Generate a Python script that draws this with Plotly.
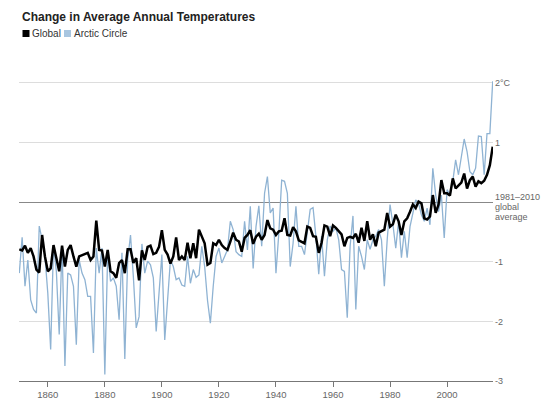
import plotly.graph_objects as go

years = list(range(1850, 2017))

global_anom = [
    -0.79, -0.81, -0.73, -0.85, -0.77, -0.91, -1.13, -1.18, -0.55, -0.91,
    -1.16, -1.11, -0.72, -0.97, -1.16, -0.73, -1.08, -0.80, -0.72, -0.91,
    -1.08, -0.91, -0.89, -0.87, -0.85, -0.97, -0.91, -0.31, -0.80, -0.81,
    -1.08, -0.80, -1.16,
    -1.19, -1.27, -1.02, -0.97, -1.19, -0.79, -0.79, -1.02, -0.94, -1.31,
    -0.81, -0.97, -0.75, -0.73, -0.87, -0.85, -0.75, -0.47, -0.80, -0.88,
    -1.03, -0.91, -0.59, -0.97, -0.91, -0.97, -0.68, -0.94, -0.69, -0.94,
    -0.46, -0.58, -0.69,
    -1.05, -1.02, -0.69, -0.72, -0.63, -0.72, -0.77, -0.80, -0.66, -0.51,
    -0.63, -0.66, -0.83, -0.60, -0.55, -0.47, -0.70, -0.58, -0.53, -0.63,
    -0.55, -0.30, -0.44, -0.46, -0.55, -0.49, -0.48, -0.27, -0.55, -0.56,
    -0.42, -0.49, -0.64,
    -0.67, -0.69, -0.41, -0.43, -0.57, -0.58, -0.85, -0.68, -0.39, -0.41,
    -0.57, -0.39, -0.43, -0.49, -0.54, -0.74, -0.60, -0.58, -0.60, -0.53,
    -0.68, -0.43, -0.65, -0.32, -0.63, -0.54, -0.74, -0.51, -0.49, -0.46,
    -0.18, -0.41, -0.37,
    -0.21, -0.32, -0.55, -0.32, -0.27, -0.16, -0.04, -0.10, 0.01, -0.02,
    -0.27, -0.29, -0.24, 0.12, -0.18, -0.04, 0.37, 0.15, 0.15, 0.11,
    0.40, 0.23, 0.29, 0.33, 0.48, 0.23, 0.37, 0.43, 0.26, 0.35,
    0.32, 0.36, 0.46, 0.62, 0.93,
]

arctic_anom = [
    -1.19, -0.59, -1.41, -0.97, -1.64, -1.80, -1.86, -0.40, -0.63, -0.91,
    -1.53, -2.47, -0.72, -1.16, -2.22, -0.74, -2.75, -1.19, -1.22, -1.41,
    -2.39, -0.97, -1.19, -1.30, -1.58, -1.58, -2.53, -0.77, -1.19, -0.77,
    -2.89, -0.85, -1.33,
    -1.27, -1.41, -1.97, -0.85, -2.63, -0.97, -0.55, -1.25, -2.11, -1.92,
    -0.70, -1.19, -0.99, -1.05, -1.27, -2.17, -1.47, -0.88, -2.31, -1.64,
    -0.97, -1.08, -1.30, -1.27, -1.39, -1.41, -0.91, -1.36, -1.13, -1.26,
    -1.22, -0.74, -1.08,
    -1.65, -2.03, -1.41, -0.91, -0.77, -1.02, -0.91, -0.80, -0.32, -0.46,
    -0.83, -0.88, -0.91, -0.32, -0.80, -0.07, -1.11, -0.41, -0.06, -0.74,
    0.15, 0.43, -0.18, -0.10, -1.19, -0.52, 0.37, 0.35, 0.15, -1.08,
    -0.69, -0.07, -0.74,
    -0.74, -0.88, -0.54, -0.12, -0.09, -0.57, -1.21, -0.57, -1.24, -0.63,
    -0.40, -0.49, -0.43, -0.63, -1.13, -1.16, -1.94, -0.74, -0.23, -1.80,
    -0.74, -0.91, -1.13, -0.63, -0.79, -0.63, -0.57, -0.46, -0.63, -1.41,
    -0.63, -0.04, -0.37,
    -0.77, -0.32, -0.93, -0.49, -0.93, -0.41, -0.16, 0.04, -0.02, -0.21,
    -0.32, -0.10, -0.38, 0.57, 0.12, -0.16, 0.12, -0.60, 0.21, 0.12,
    0.35, 0.71, 0.46, 0.73, 1.06, 0.85, 0.51, 0.46, 0.57, 1.11,
    1.10, 0.46, 1.15, 1.15, 2.03,
]

x_tick_vals = [1860, 1880, 1900, 1920, 1940, 1960, 1980, 2000]
y_tick_vals = [-3, -2, -1, 0, 1, 2]
y_tick_text = ["-3", "-2", "-1", "", "1", "2°C"]
baseline_label = ["1981–2010", "global", "average"]

title_text = "Change in Average Annual Temperatures"
series_names = ["Global", "Arctic Circle"]
series_colors = ["#000000", "#8fb3d3"]

# page has an 8px body margin; work in page pixels and convert
OFF = 8
W, H = 550 - 2 * OFF, 408 - 2 * OFF
PL, PR, PT, PB = 19, 493, 80, 381          # plot area in page pixels
ML, MR, MT = PL - OFF, (550 - OFF) - PR, PT - OFF
MB = (408 - OFF) - PB
PW, PH = PR - PL, PB - PT


def px_x(px):
    return (px - PL) / PW


def px_y(py):
    return (PB - py) / PH


fig = go.Figure()
fig.add_trace(go.Scatter(x=years, y=arctic_anom, mode="lines", name=series_names[1],
                         line=dict(color=series_colors[1], width=1.3), cliponaxis=False))
fig.add_trace(go.Scatter(x=years, y=global_anom, mode="lines", name=series_names[0],
                         line=dict(color=series_colors[0], width=2.5), cliponaxis=False))

font_family = "Liberation Sans, Arial, sans-serif"

annotations = [
    dict(text="<b>" + title_text + "</b>", xref="paper", yref="paper",
         x=px_x(20), y=px_y(16.5), xanchor="left", yanchor="middle", showarrow=False,
         font=dict(size=12, color="#222222", family=font_family)),
    dict(text=series_names[0], xref="paper", yref="paper",
         x=px_x(30), y=px_y(33.5), xanchor="left", yanchor="middle", showarrow=False,
         font=dict(size=10, color="#333333", family=font_family)),
    dict(text=series_names[1], xref="paper", yref="paper",
         x=px_x(72), y=px_y(33.5), xanchor="left", yanchor="middle", showarrow=False,
         font=dict(size=10, color="#333333", family=font_family)),
]
for i, line in enumerate(baseline_label):
    annotations.append(dict(text=line, xref="paper", yref="y", x=1, y=0,
                            xanchor="left", yanchor="middle", xshift=0, yshift=5 - 10 * i,
                            showarrow=False,
                            font=dict(size=9, color="#666666", family=font_family)))

shapes = [
    dict(type="rect", xref="paper", yref="paper", x0=px_x(22.5), x1=px_x(29.5),
         y0=px_y(37), y1=px_y(30), fillcolor=series_colors[0], line=dict(width=0)),
    dict(type="rect", xref="paper", yref="paper", x0=px_x(64), x1=px_x(71),
         y0=px_y(37), y1=px_y(30), fillcolor="#a9c6e0", line=dict(width=0)),
]

fig.update_layout(
    width=W, height=H,
    margin=dict(l=ML, r=MR, t=MT, b=MB, pad=0, autoexpand=False),
    paper_bgcolor="white", plot_bgcolor="white",
    showlegend=False,
    annotations=annotations,
    shapes=shapes,
    xaxis=dict(range=[1849.9, 2016.1], tickvals=x_tick_vals, ticks="outside",
               ticklen=5, tickcolor="#777777", showline=True, linecolor="#777777",
               linewidth=1, showgrid=False, zeroline=False, automargin=False,
               tickfont=dict(size=9.5, color="#666666", family=font_family)),
    yaxis=dict(range=[-3, 2.05], side="right", tickvals=y_tick_vals, ticktext=y_tick_text,
               ticks="", showgrid=True, gridcolor="#dddddd", gridwidth=1,
               zeroline=True, zerolinecolor="#888888", zerolinewidth=1,
               showline=False, ticklabelstandoff=1, automargin=False,
               tickfont=dict(size=9, color="#666666", family=font_family)),
)

fig.write_html("out.html")
